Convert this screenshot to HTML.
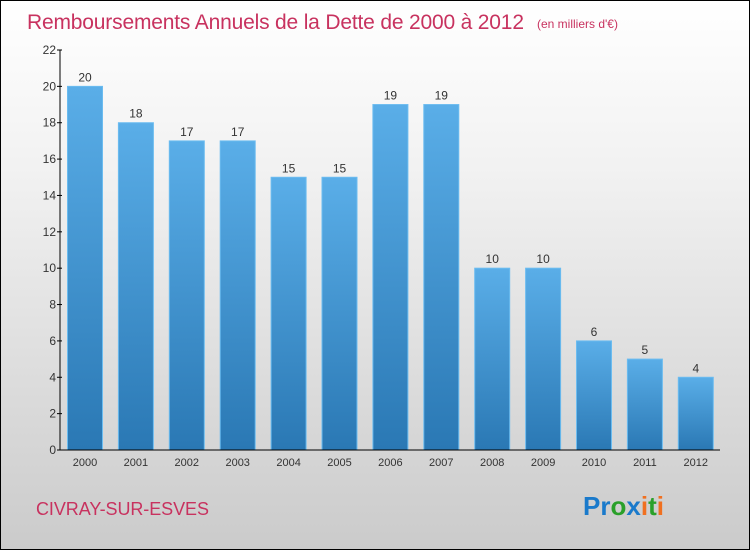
<!DOCTYPE html>
<html><head><meta charset="utf-8"><style>
body{margin:0;width:750px;height:550px;overflow:hidden;font-family:"Liberation Sans",sans-serif}
#wrap{position:absolute;left:0;top:0;width:748px;height:548px;border:1px solid #000;background:linear-gradient(#fff 0%,#f2f2f2 30%,#cbcbcb 100%)}
</style></head><body>
<div id="wrap">
<svg width="748" height="548">
<text x="26" y="28" font-size="21" fill="#c8325f" textLength="497">Remboursements Annuels de la Dette de 2000 à 2012</text>
<text x="536" y="27" font-size="12" fill="#c8325f">(en milliers d'€)</text>
<g id="plot"></g>
<text x="35" y="514" font-size="18" fill="#c8325f" textLength="173">CIVRAY-SUR-ESVES</text>
<text x="582" y="514" font-size="26" font-weight="bold"><tspan fill="#1a7acb">Pr</tspan><tspan fill="#2aa02a">o</tspan><tspan fill="#1a7acb">x</tspan><tspan fill="#f07020">i</tspan><tspan fill="#2aa02a">t</tspan><tspan fill="#f07020">i</tspan></text>
</svg></div>
<script>
const years=["2000","2001","2002","2003","2004","2005","2006","2007","2008","2009","2010","2011","2012"];
const values=[20,18,17,17,15,15,19,19,10,10,6,5,4];
const yTicks=[0,2,4,6,8,10,12,14,16,18,20,22];
const NS="http://www.w3.org/2000/svg";
const g=document.getElementById('plot');
const x0=59,yBase=449,yTop=49,yMax=22,step=50.9,bw=35,first=84;
const y=v=>yBase-(yBase-yTop)*v/yMax;
const xc=i=>first+i*step;
function el(t,a){const e=document.createElementNS(NS,t);for(const k in a)e.setAttribute(k,a[k]);g.appendChild(e);return e;}
const defs=el('defs',{});
defs.innerHTML='<linearGradient id="bg" x1="0" y1="0" x2="0" y2="1"><stop offset="0" stop-color="#5aaee8"/><stop offset="1" stop-color="#2a78b4"/></linearGradient>';
values.forEach((v,i)=>{
 const r=el('rect',{x:xc(i)-bw/2,y:y(v),width:bw,height:yBase-y(v),fill:'url(#bg)',stroke:'#6bbcf0','stroke-width':1});
 
 
 const t=el('text',{x:xc(i),y:y(v)-5,'font-size':12,fill:'#333','text-anchor':'middle'});t.textContent=v;
 
 
 const xl=el('text',{x:xc(i),y:yBase+16,'font-size':11,fill:'#333','text-anchor':'middle'});xl.textContent=years[i];
 
 
});
yTicks.forEach(v=>{
 el('line',{x1:x0-3,x2:x0+2,y1:y(v),y2:y(v),stroke:'#000'});
 const t=el('text',{x:x0-4,y:y(v)+4,'font-size':12,fill:'#333','text-anchor':'end'});t.textContent=v;
 
 
});
const ya=el('line',{x1:x0,x2:x0,y1:yTop,y2:yBase,stroke:'#000'});


const xa=el('line',{x1:x0,x2:719,y1:yBase,y2:yBase,stroke:'#000'});


</script>
</body></html>
